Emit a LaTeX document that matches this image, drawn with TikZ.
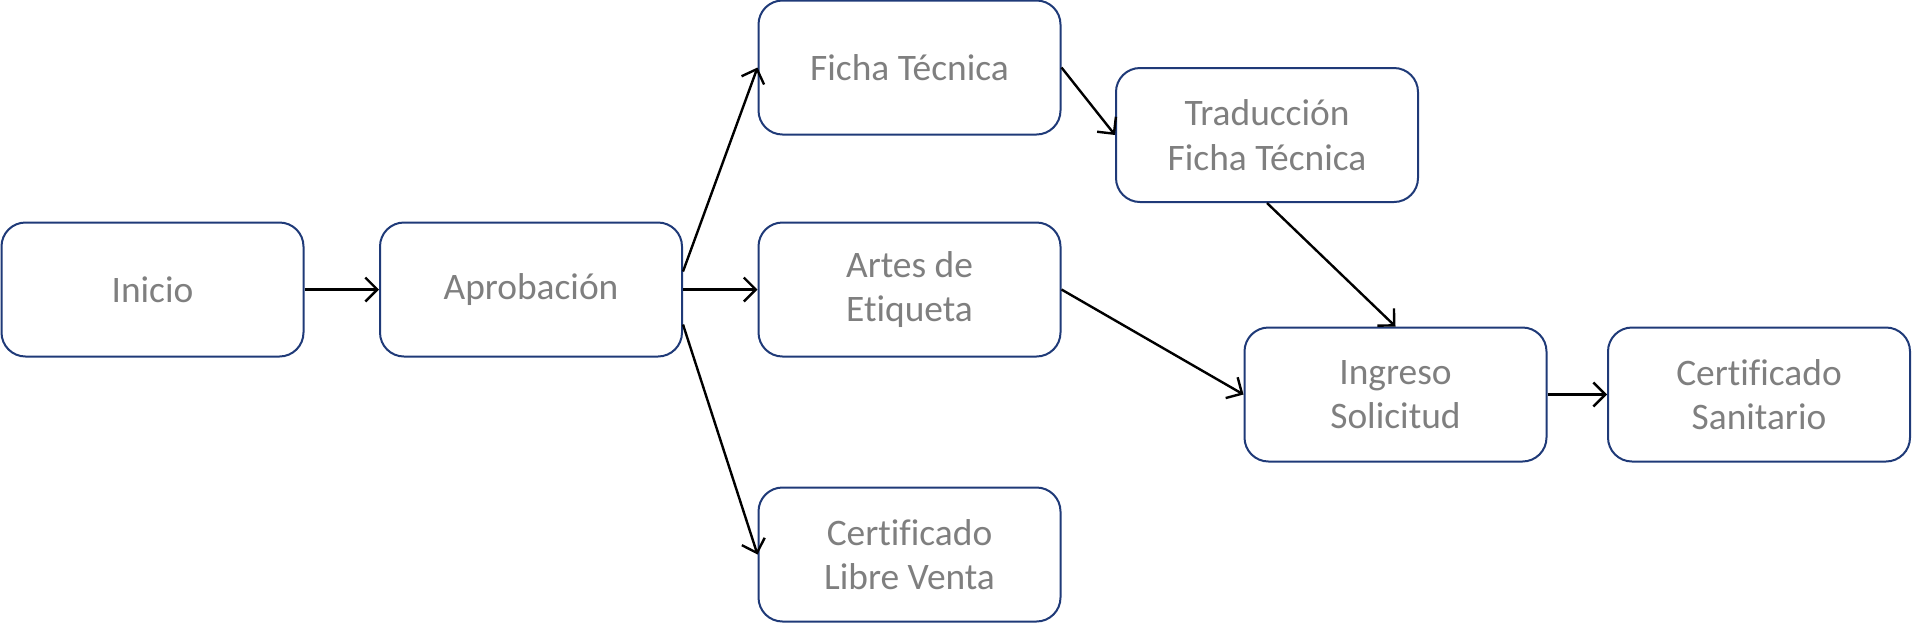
\documentclass[tikz,border=0pt]{standalone}
\usepackage{fontspec}
\setmainfont{Carlito}[Ligatures={NoCommon}]
\usetikzlibrary{arrows.meta,calc}
\definecolor{boxline}{HTML}{1F3A78}
\definecolor{txt}{HTML}{7F7F7F}
\begin{document}
\begin{tikzpicture}[x=0.5pt,y=-0.5pt,
  procbox/.style={draw=boxline, line width=1pt, rounded corners=12pt, fill=white,
    minimum width=151pt, minimum height=67pt, align=center, text=txt,
    font=\fontsize{18.7pt}{22.2pt}\selectfont, inner sep=2pt},
  conn/.style={draw=black, line width=1.2pt, -{Straight Barb[length=6pt,width=12pt,line width=1.2pt]}}]
\useasboundingbox (0,0) rectangle (1912,623);
\node[procbox] (inicio) at (152.5,289.5) {Inicio};
\node[procbox] (aprob) at (531,289.5) {Aprobación};
\node[procbox] (ficha) at (909.5,67.5) {Ficha Técnica};
\node[procbox] (artes) at (909.5,289.5) {Artes de\\Etiqueta};
\node[procbox] (clv) at (909.5,554.5) {Certificado\\Libre Venta};
\node[procbox] (trad) at (1267,135) {Traducción\\Ficha Técnica};
\node[procbox] (ingreso) at (1395.5,394.5) {Ingreso\\Solicitud};
\node[procbox] (certsan) at (1759,394.5) {Certificado\\Sanitario};
\coordinate (aprobup) at ($(aprob.east)+(0,-18)$);
\coordinate (aprobdn) at ($(aprob.east)+(0,35)$);
\draw[conn] (inicio.east) -- (aprob.west);
\draw[conn] (aprob.east) -- (artes.west);
\draw[conn] (aprobup) -- (ficha.west);
\draw[conn] (aprobdn) -- (clv.west);
\draw[conn] (ficha.east) -- (trad.west);
\draw[conn] (trad.south) -- (ingreso.north);
\draw[conn] (artes.east) -- (ingreso.west);
\draw[conn] (ingreso.east) -- (certsan.west);
\end{tikzpicture}
\end{document}
